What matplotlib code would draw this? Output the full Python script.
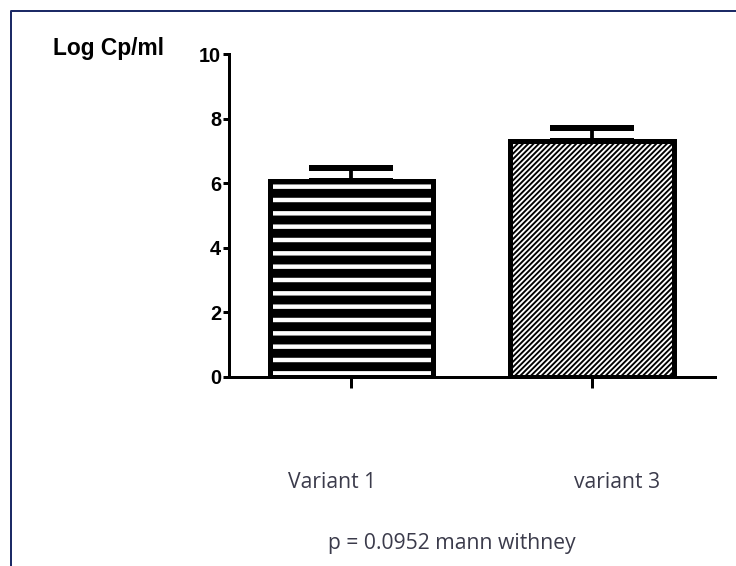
import matplotlib
matplotlib.use("Agg")
import matplotlib.pyplot as plt
from matplotlib.lines import Line2D

# data
groups = ["Variant 1", "variant 3"]
means = [6.05, 7.3]
sem = [0.42, 0.42]
yticks = [0, 2, 4, 6, 8, 10]
note = "p = 0.0952 mann withney"

W, H, DPI = 736, 566, 80
fig = plt.figure(figsize=(W / DPI, H / DPI), dpi=DPI)
ax = fig.add_axes([229 / W, 189.3 / H, 486 / W, 322.7 / H])

xs = list(range(len(groups)))

# error bars (upper only), drawn underneath the bars
ax.errorbar(xs, means, yerr=[[0] * len(sem), sem], fmt="none", ecolor="black",
            elinewidth=3.4, capsize=38, capthick=5.4, zorder=1)

bars = ax.bar(xs, means, width=0.68, color="white", edgecolor="black",
              linewidth=4.5, zorder=2)
bars[0].set_hatch("-")
bars[1].set_hatch("/////")
try:
    bars[0].set_hatch_linewidth(8.0)
    bars[1].set_hatch_linewidth(1.7)
except AttributeError:
    plt.rcParams["hatch.linewidth"] = 4.0

ax.set_xlim(-0.509, 1.511)
ax.set_ylim(0, 10)
ax.set_yticks(yticks)
ax.set_yticklabels([str(t) for t in yticks], fontweight="bold",
                   fontsize=18, family="Liberation Sans")
ax.set_xticks(xs)
ax.set_xticklabels([])
ax.tick_params(axis="y", length=5.5, width=2.7, pad=1.5, direction="out")
ax.tick_params(axis="x", length=10, width=2.7, direction="out")

for s in ["top", "right"]:
    ax.spines[s].set_visible(False)
for s in ["left", "bottom"]:
    ax.spines[s].set_linewidth(2.7)

# axis title in the corner
fig.text(53 / W, 1 - 48 / H, "Log Cp/ml", fontsize=20.5, fontweight="bold",
         family="Liberation Sans", ha="left", va="center")

# group labels and test note
label_x = [332, 617]
for g, lx in zip(groups, label_x):
    fig.text(lx / W, 1 - 482 / H, g, fontsize=19, family="Open Sans",
             color="#3b3b4b", ha="center", va="center")
fig.text(452 / W, 1 - 543 / H, note, fontsize=19, family="Open Sans",
         color="#3b3b4b", ha="center", va="center")

# navy frame (left and top edges only visible)
fig.add_artist(Line2D([11 / W, 11 / W, 1.01], [-0.01, 1 - 11 / H, 1 - 11 / H],
                      transform=fig.transFigure, color="#1c2a66", linewidth=1.8))

fig.savefig("out.png", dpi=DPI)
